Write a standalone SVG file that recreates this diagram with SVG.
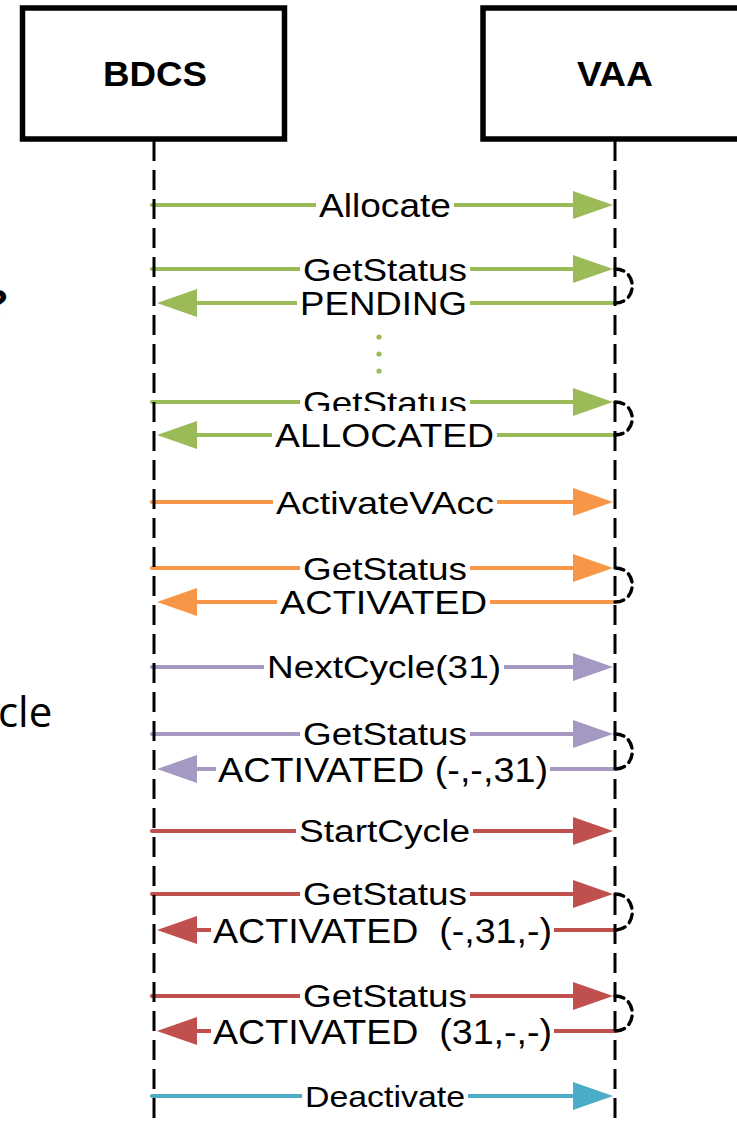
<svg xmlns="http://www.w3.org/2000/svg" width="737" height="1126" viewBox="0 0 737 1126">
  <style>
    .box { fill: #fff; stroke: #000; stroke-width: 5.5; }
    .head { font-family: "Liberation Sans", Arial, sans-serif; font-weight: bold; text-anchor: middle; fill: #000; }
    .life { stroke: #000; stroke-width: 3; stroke-dasharray: 20 9; fill: none; }
    .loop { stroke: #000; stroke-width: 3.4; stroke-dasharray: 9 6; fill: none; stroke-linecap: round; }
    .msg { stroke-width: 4.2; fill: none; stroke-linecap: round; }
    .bg { fill: #fff; }
    .lbl { font-family: "Liberation Sans", Arial, sans-serif; text-anchor: middle; fill: #000; white-space: pre; }
    .g { stroke: #9BBB59; } .o { stroke: #F79646; } .p { stroke: #A598C2; } .r { stroke: #C0504D; } .b { stroke: #4BACC6; }
    .side { font-family: "Open Sans", "Noto Sans", sans-serif; fill: #000; }
  </style>
  <defs>
    <marker id="hg" markerUnits="userSpaceOnUse" markerWidth="40" markerHeight="28" refX="0" refY="14" orient="auto" overflow="visible"><path d="M0,0 L40,14 L0,28 Z" fill="#9BBB59"/></marker>
    <marker id="ho" markerUnits="userSpaceOnUse" markerWidth="40" markerHeight="28" refX="0" refY="14" orient="auto" overflow="visible"><path d="M0,0 L40,14 L0,28 Z" fill="#F79646"/></marker>
    <marker id="hp" markerUnits="userSpaceOnUse" markerWidth="40" markerHeight="28" refX="0" refY="14" orient="auto" overflow="visible"><path d="M0,0 L40,14 L0,28 Z" fill="#A598C2"/></marker>
    <marker id="hr" markerUnits="userSpaceOnUse" markerWidth="40" markerHeight="28" refX="0" refY="14" orient="auto" overflow="visible"><path d="M0,0 L40,14 L0,28 Z" fill="#C0504D"/></marker>
    <marker id="hb" markerUnits="userSpaceOnUse" markerWidth="40" markerHeight="28" refX="0" refY="14" orient="auto" overflow="visible"><path d="M0,0 L40,14 L0,28 Z" fill="#4BACC6"/></marker>
  </defs>

  <rect width="737" height="1126" fill="#fff"/>

  <!-- partial side captions at the left edge -->
  <text class="side" x="7" y="318" font-size="40" font-weight="bold" text-anchor="end">?</text>
  <text class="side" x="-2" y="727" font-size="42">cle</text>

  <!-- participants -->
  <g id="bdcs">
    <rect class="box" x="22.5" y="8" width="262" height="131"/>
    <text class="head" x="155" y="86" font-size="35" textLength="104" lengthAdjust="spacingAndGlyphs">BDCS</text>
  </g>
  <g id="vaa">
    <rect class="box" x="483" y="8" width="270" height="131"/>
    <text class="head" x="615" y="86" font-size="35" textLength="76" lengthAdjust="spacingAndGlyphs">VAA</text>
  </g>

  <!-- messages -->
  <g id="connectors">
    <g id="m1">
      <line class="msg g" x1="152" y1="205" x2="573" y2="205" marker-end="url(#hg)"/>
      <rect class="bg" x="316" y="185" width="138" height="35"/>
      <text class="lbl" x="385" y="216.5" font-size="33" textLength="132" lengthAdjust="spacingAndGlyphs">Allocate</text>
    </g>
    <g id="m2">
      <line class="msg g" x1="152" y1="269" x2="573" y2="269" marker-end="url(#hg)"/>
      <rect class="bg" x="300" y="249" width="170" height="33"/>
      <text class="lbl" x="385" y="280.5" font-size="32" textLength="164" lengthAdjust="spacingAndGlyphs">GetStatus</text>
    </g>
    <g id="m3">
      <line class="msg g" x1="615" y1="303" x2="197" y2="303" marker-end="url(#hg)"/>
      <rect class="bg" x="297" y="282" width="173" height="35"/>
      <text class="lbl" x="383.5" y="315" font-size="33" textLength="167" lengthAdjust="spacingAndGlyphs">PENDING</text>
    </g>
    <g id="dots" fill="#9BBB59">
      <circle cx="379" cy="337" r="2.6"/>
      <circle cx="379" cy="354" r="2.6"/>
      <circle cx="379" cy="371" r="2.6"/>
    </g>
    <g id="m4">
      <line class="msg g" x1="152" y1="402" x2="573" y2="402" marker-end="url(#hg)"/>
      <rect class="bg" x="300" y="382" width="170" height="33"/>
      <text class="lbl" x="385" y="413.5" font-size="32" textLength="164" lengthAdjust="spacingAndGlyphs">GetStatus</text>
    </g>
    <g id="m5">
      <line class="msg g" x1="615" y1="435" x2="197" y2="435" marker-end="url(#hg)"/>
      <rect class="bg" x="272" y="411" width="225" height="38"/>
      <text class="lbl" x="384.5" y="447" font-size="33" textLength="219" lengthAdjust="spacingAndGlyphs">ALLOCATED</text>
    </g>
    <g id="m6">
      <line class="msg o" x1="152" y1="502" x2="573" y2="502" marker-end="url(#ho)"/>
      <rect class="bg" x="273" y="482" width="224" height="35"/>
      <text class="lbl" x="385" y="513.5" font-size="32" textLength="218" lengthAdjust="spacingAndGlyphs">ActivateVAcc</text>
    </g>
    <g id="m7">
      <line class="msg o" x1="152" y1="568" x2="573" y2="568" marker-end="url(#ho)"/>
      <rect class="bg" x="300" y="548" width="170" height="33"/>
      <text class="lbl" x="385" y="579.5" font-size="32" textLength="164" lengthAdjust="spacingAndGlyphs">GetStatus</text>
    </g>
    <g id="m8">
      <line class="msg o" x1="615" y1="602" x2="197" y2="602" marker-end="url(#ho)"/>
      <rect class="bg" x="277" y="582" width="213" height="34"/>
      <text class="lbl" x="383.5" y="614" font-size="33" textLength="207" lengthAdjust="spacingAndGlyphs">ACTIVATED</text>
    </g>
    <g id="m9">
      <line class="msg p" x1="152" y1="667" x2="573" y2="667" marker-end="url(#hp)"/>
      <rect class="bg" x="264" y="647" width="240" height="38"/>
      <text class="lbl" x="384" y="678" font-size="31" textLength="234" lengthAdjust="spacingAndGlyphs">NextCycle(31)</text>
    </g>
    <g id="m10">
      <line class="msg p" x1="152" y1="734" x2="573" y2="734" marker-end="url(#hp)"/>
      <rect class="bg" x="300" y="714" width="170" height="33"/>
      <text class="lbl" x="385" y="745" font-size="31" textLength="164" lengthAdjust="spacingAndGlyphs">GetStatus</text>
    </g>
    <g id="m11">
      <line class="msg p" x1="615" y1="769" x2="197" y2="769" marker-end="url(#hp)"/>
      <rect class="bg" x="216" y="748" width="334" height="40"/>
      <text class="lbl" x="383" y="781.5" font-size="35" textLength="330" lengthAdjust="spacingAndGlyphs">ACTIVATED (-,-,31)</text>
    </g>
    <g id="m12">
      <line class="msg r" x1="152" y1="831" x2="573" y2="831" marker-end="url(#hr)"/>
      <rect class="bg" x="296" y="811" width="177" height="35"/>
      <text class="lbl" x="384.5" y="842" font-size="31" textLength="171" lengthAdjust="spacingAndGlyphs">StartCycle</text>
    </g>
    <g id="m13">
      <line class="msg r" x1="152" y1="894" x2="573" y2="894" marker-end="url(#hr)"/>
      <rect class="bg" x="300" y="874" width="170" height="33"/>
      <text class="lbl" x="385" y="905" font-size="31" textLength="164" lengthAdjust="spacingAndGlyphs">GetStatus</text>
    </g>
    <g id="m14">
      <line class="msg r" x1="615" y1="930" x2="197" y2="930" marker-end="url(#hr)"/>
      <rect class="bg" x="211" y="909" width="343" height="40"/>
      <text class="lbl" x="382.5" y="942.5" font-size="35" textLength="339" lengthAdjust="spacingAndGlyphs">ACTIVATED  (-,31,-)</text>
    </g>
    <g id="m15">
      <line class="msg r" x1="152" y1="996" x2="573" y2="996" marker-end="url(#hr)"/>
      <rect class="bg" x="300" y="976" width="170" height="33"/>
      <text class="lbl" x="385" y="1007" font-size="31" textLength="164" lengthAdjust="spacingAndGlyphs">GetStatus</text>
    </g>
    <g id="m16">
      <line class="msg r" x1="615" y1="1031" x2="197" y2="1031" marker-end="url(#hr)"/>
      <rect class="bg" x="211" y="1010" width="343" height="40"/>
      <text class="lbl" x="382.5" y="1043.5" font-size="35" textLength="339" lengthAdjust="spacingAndGlyphs">ACTIVATED  (31,-,-)</text>
    </g>
    <g id="m17">
      <line class="msg b" x1="152" y1="1096" x2="573" y2="1096" marker-end="url(#hb)"/>
      <rect class="bg" x="302" y="1078" width="166" height="32"/>
      <text class="lbl" x="385" y="1106.5" font-size="29" textLength="160" lengthAdjust="spacingAndGlyphs">Deactivate</text>
    </g>

    <!-- lifelines -->
    <line class="life" x1="154" y1="141" x2="154" y2="1126"/>
    <line class="life" x1="615" y1="141" x2="615" y2="1126"/>

    <!-- polling loops on the VAA side -->
    <path class="loop" d="M615,269 C638,269 638,303 615,303"/>
    <path class="loop" d="M615,402 C638,402 638,435 615,435"/>
    <path class="loop" d="M615,568 C638,568 638,602 615,602"/>
    <path class="loop" d="M615,734 C638,734 638,769 615,769"/>
    <path class="loop" d="M615,894 C638,894 638,930 615,930"/>
    <path class="loop" d="M615,996 C638,996 638,1031 615,1031"/>
  </g>
</svg>
